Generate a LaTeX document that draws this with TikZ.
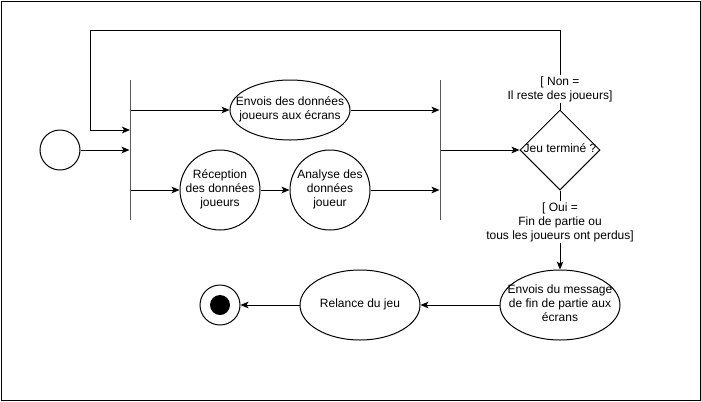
\documentclass[tikz,border=0pt]{standalone}
\usepackage{fontspec}
\setmainfont{Liberation Sans}
\usetikzlibrary{arrows.meta,shapes.geometric,calc}

% keep the node text from widening its shape
\newcommand{\boxtxt}[1]{\makebox[0pt]{\begin{tabular}{@{}c@{}}#1\end{tabular}}}

\begin{document}
\begin{tikzpicture}[x=0.75pt, y=-0.75pt, line width=0.75pt,
  every node/.style={font=\fontsize{9}{10.5}\selectfont},
  flow/.style={-{Stealth[length=6pt, width=5pt, inset=1.5pt]}},
  actell/.style={draw, ellipse, inner sep=0pt, minimum width=90pt, minimum height=52.5pt},
  actcirc/.style={draw, circle, inner sep=0pt, minimum size=60pt},
  syncbar/.style={draw, rectangle, inner sep=0pt, minimum width=0pt, minimum height=105pt},
  guard/.style={fill=white, inner sep=1pt, align=center}]

\useasboundingbox (0,0) rectangle (701,401);
\draw (1,1) rectangle (700,400);

% === START + FORK ===
\node[draw, circle, minimum size=30pt, inner sep=0pt] (start) at (60,150) {};
\node[syncbar] (fork) at (130,150) {};
\draw[flow] (start) -- (fork);

% === PARALLEL ACTIVITIES ===
\node[actell, minimum height=45pt] (envoi) at (290,110) {\boxtxt{Envois des données\\joueurs aux écrans}};
\node[actcirc] (recep) at (220,190) {\boxtxt{Réception\\des données\\joueurs}};
\node[actcirc] (analyse) at (330,190) {\boxtxt{Analyse des\\données\\joueur}};

\draw[flow] (fork.east |- envoi) -- (envoi);
\draw[flow] (fork.east |- recep) -- (recep);
\draw[flow] (recep) -- (analyse);

% === JOIN + DECISION ===
\node[syncbar] (join) at (440,150) {};
\draw[flow] (envoi) -- (envoi -| join.west);
\draw[flow] (analyse) -- (analyse -| join.west);

\node[draw, diamond, aspect=1, inner sep=0pt, minimum size=60pt] (dec) at (560,150) {\boxtxt{Jeu terminé ?}};
\draw[flow] (join) -- (dec);

% loop back when players remain
\coordinate (looptop) at (90,30);
\coordinate (loopin) at (130,130);
\draw[flow] (dec.north) |- (looptop) |- (loopin);
\node[guard] (nonlbl) at (560,89) {[ Non =\\Il reste des joueurs]};

% === END OF GAME ===
\node[actell] (msgfin) at (560,305) {\boxtxt{Envois du message\\de fin de partie aux\\écrans}};
\draw[flow] (dec.south) -- (msgfin);
\node[guard] (ouilbl) at (560,222) {[ Oui =\\Fin de partie ou\\tous les joueurs ont perdus]};

\node[actell] (relance) at (360,305) {\boxtxt{Relance du jeu}};
\draw[flow] (msgfin) -- (relance);

\node[draw, circle, minimum size=30pt, inner sep=0pt] (fin) at (220,305) {};
\node[fill, circle, minimum size=15pt, inner sep=0pt] (fincore) at (fin) {};
\draw[flow] (relance) -- (fin);

\end{tikzpicture}
\end{document}
